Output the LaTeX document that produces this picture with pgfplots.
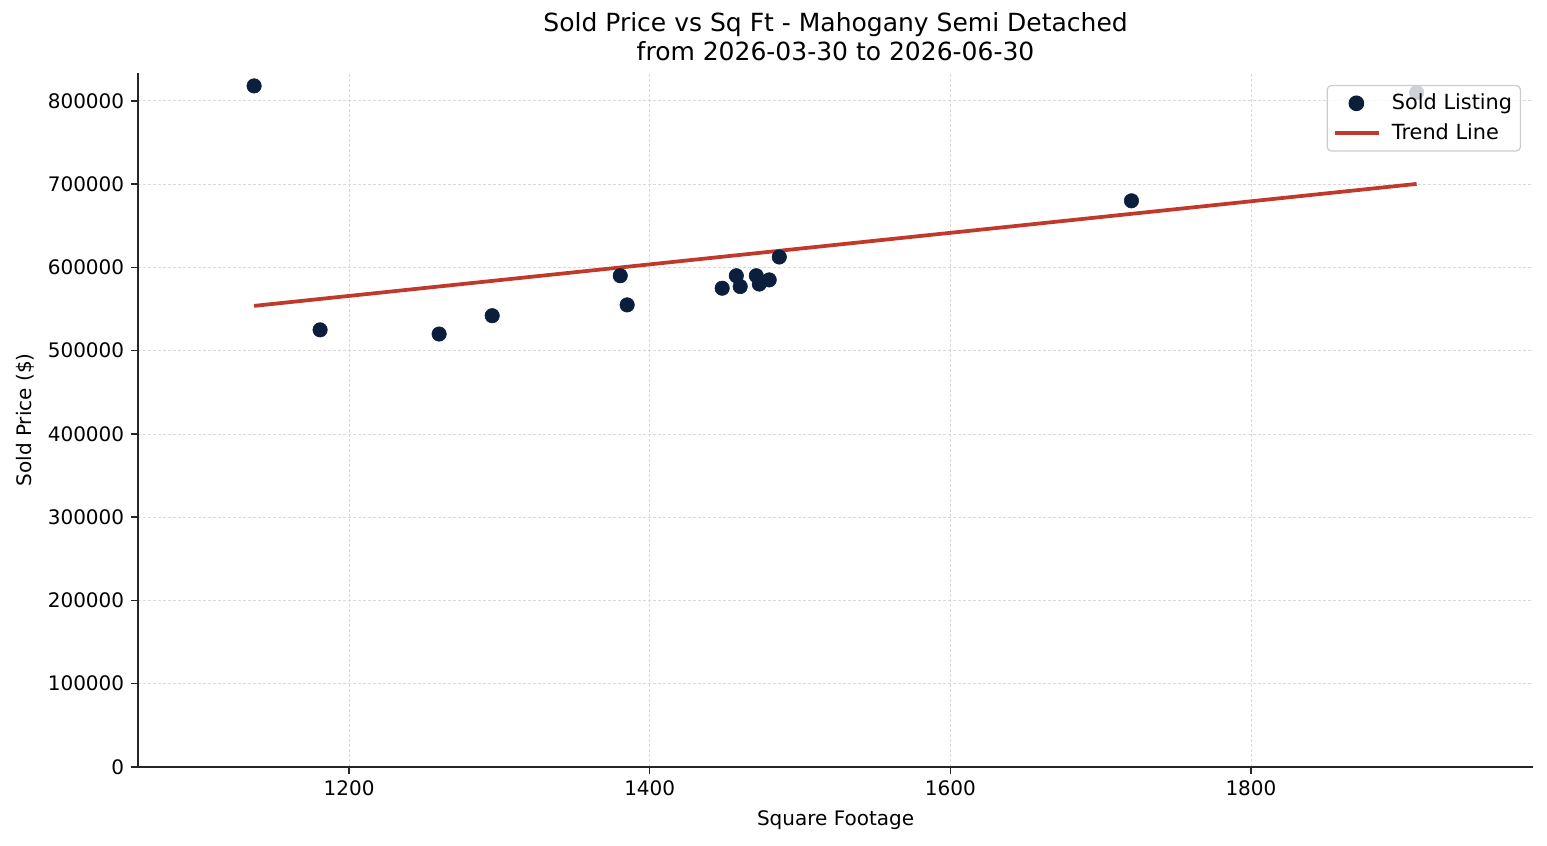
\documentclass[border=0pt]{standalone}
\usepackage{pgfplots}
\pgfplotsset{compat=1.18}
\usepackage{fontspec}
\setmainfont{DejaVu Sans}
\definecolor{navy}{HTML}{0B1E3B}
\definecolor{trend}{HTML}{C0392B}
\pgfplotsset{
  dotleg/.style={legend image code/.code={\draw[##1, fill opacity=1, draw opacity=1] plot coordinates {(0.55cm,0cm)};}},
  lineleg/.style={legend image code/.code={\draw[##1, draw opacity=1] (0cm,0cm) -- (1.12cm,0cm);}},
}
\begin{document}
\fontsize{14.4}{17}\selectfont
\begin{tikzpicture}
\useasboundingbox (-99.4pt,-56.2pt) rectangle (1014.4pt,552.2pt);
\begin{axis}[
  at={(0,0)}, anchor=south west,
  scale only axis, width=1004.4pt, height=499.7pt,
  xmin=1059.6, xmax=1987.7, ymin=0, ymax=833600,
  axis x line*=bottom, axis y line*=left,
  axis line style={black!85, line width=1.1pt},
  xtick={1200,1400,1600,1800},
  ytick={0,100000,...,800000},
  scaled ticks=false,
  /pgf/number format/fixed, /pgf/number format/1000 sep={},
  /pgf/number format/assume math mode=true,
  tick align=outside, major tick length=5pt,
  tick style={black!85, line width=1.1pt},
  ticklabel style={font=\fontsize{14.4}{17}\selectfont},
  grid=major,
  major grid style={dash pattern=on 2.3pt off 1.3pt, black!15, line width=0.6pt},
  xlabel={Square Footage}, ylabel={Sold Price (\$)},
  xlabel style={yshift=-1pt},
  label style={font=\fontsize{14.4}{17}\selectfont},
  title={Sold Price vs Sq Ft - Mahogany Semi Detached\\from 2026-03-30 to 2026-06-30},
  title style={font=\fontsize{18}{20.4}\selectfont, align=center, yshift=-2pt},
  legend style={at={(0.9914,0.9827)}, anchor=north east, fill=white, fill opacity=0.8, draw opacity=1, text opacity=1, draw=black!20, line width=0.9pt, rounded corners=3pt, font=\fontsize{15}{17.5}\selectfont, row sep=4pt, column sep=6pt, inner xsep=4pt, inner ysep=4pt},
  legend cell align=left,
]
\addplot[only marks, mark=*, mark size=5.2pt, color=navy, dotleg] coordinates {
(1136.8,818000) (1180.7,525000) (1259.9,520000) (1295.2,542000)
(1380.4,590000) (1385.0,555000) (1448.2,575000) (1457.6,590000)
(1460.2,577000) (1470.9,590000) (1472.9,580000) (1479.5,585000)
(1486.2,612500) (1720.5,680000) (1910.2,810000)
};
\addlegendentry{Sold Listing}
\addplot[trend, line width=2.7pt, lineleg] coordinates {(1136.8,553800) (1910.2,700300)};
\addlegendentry{Trend Line}
\end{axis}
\end{tikzpicture}
\end{document}
